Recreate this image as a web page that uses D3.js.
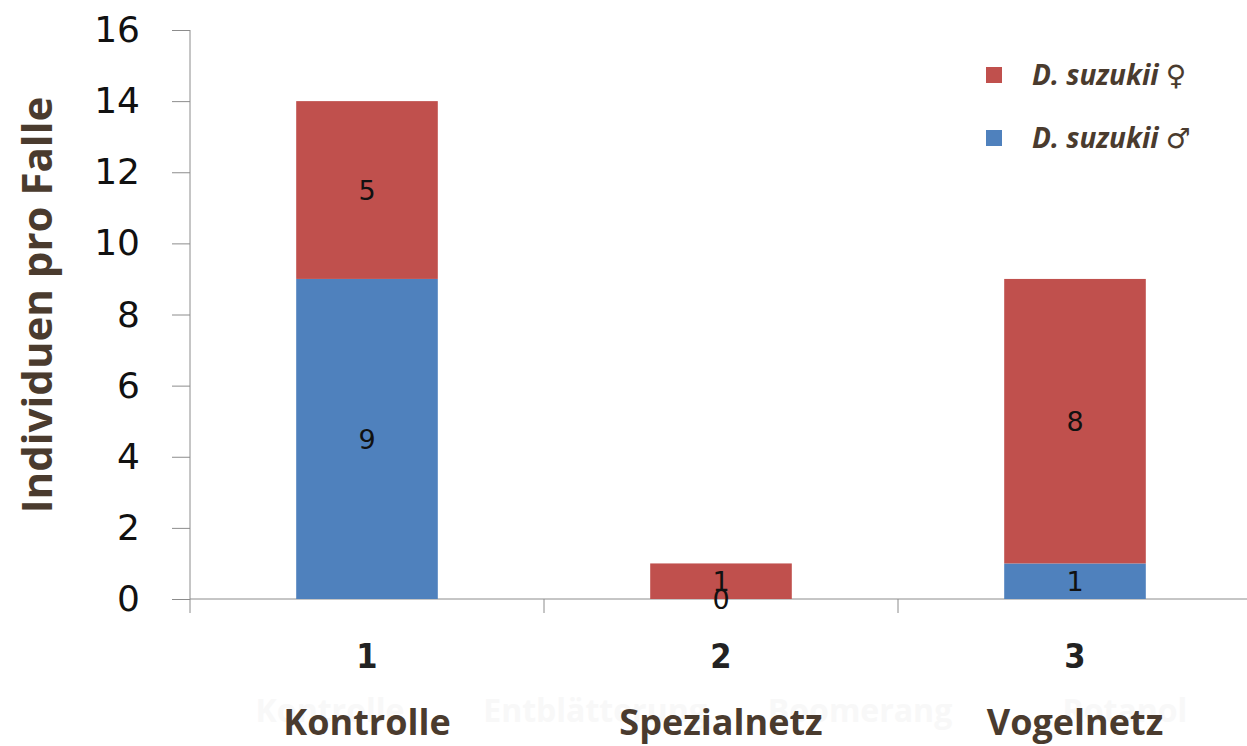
<!DOCTYPE html>
<html>
<head>
<meta charset="utf-8">
<script src="https://cdn.jsdelivr.net/npm/d3@7"></script>
<style>
  body { margin: 0; background: #fff; }
  svg { display: block; }
</style>
</head>
<body>
<svg width="1247" height="746"></svg>
<script>
var categories = ["1", "2", "3"];
var categoryNames = ["Kontrolle", "Spezialnetz", "Vogelnetz"];
var males = [9, 0, 1];
var females = [5, 1, 8];
var yTicks = [0, 2, 4, 6, 8, 10, 12, 14, 16];
var ghostNames = ["Kontrolle", "Entblätterung", "Boomerang", "Rotanol"];

var red = "#c0504d";
var blue = "#4f81bd";
var brown = "#4a3b2e";

var svg = d3.select("svg");

var x = d3.scaleBand()
    .domain(categories)
    .range([190, 1252])
    .padding(0);

var y = d3.scaleLinear()
    .domain([0, 16])
    .range([599, 30]);

var barW = x.bandwidth() * 0.4;

// y axis
var yAxis = svg.append("g")
    .attr("transform", "translate(190,0)")
    .call(d3.axisLeft(y).tickValues(yTicks).tickSize(18).tickPadding(32));
yAxis.selectAll("line, path").attr("stroke", "#8c8c8c");
yAxis.select(".domain").attr("d", "M0," + y(16) + "V" + y(0));
yAxis.selectAll("text")
    .attr("font-family", "DejaVu Sans")
    .attr("font-size", 36)
    .attr("fill", "#111");

// x axis
var xAxis = svg.append("g")
    .attr("transform", "translate(0,599)");
xAxis.append("line")
    .attr("x1", 190).attr("x2", 1247)
    .attr("stroke", "#8c8c8c");
xAxis.selectAll(".tk")
    .data(categories)
    .enter().append("line")
    .attr("class", "tk")
    .attr("x1", function(d) { return x(d); })
    .attr("x2", function(d) { return x(d); })
    .attr("y1", 0).attr("y2", 14)
    .attr("stroke", "#8c8c8c");

svg.selectAll(".num")
    .data(categories)
    .enter().append("text")
    .attr("x", function(d) { return x(d) + x.bandwidth() / 2; })
    .attr("y", 668)
    .attr("text-anchor", "middle")
    .attr("font-family", "DejaVu Sans Condensed, DejaVu Sans")
    .attr("font-weight", "bold")
    .attr("font-size", 34)
    .attr("fill", "#222")
    .text(function(d) { return d; });

// faint ghost labels
svg.selectAll(".ghost")
    .data(ghostNames)
    .enter().append("text")
    .attr("x", function(d, i) { return 330 + i * 265; })
    .attr("y", 722)
    .attr("text-anchor", "middle")
    .attr("font-family", "Open Sans")
    .attr("font-weight", "bold")
    .attr("font-size", 32)
    .attr("fill", "#f8f8f8")
    .text(function(d) { return d; });

svg.selectAll(".cat")
    .data(categoryNames)
    .enter().append("text")
    .attr("x", function(d, i) { return x(categories[i]) + x.bandwidth() / 2; })
    .attr("y", 735)
    .attr("text-anchor", "middle")
    .attr("font-family", "Open Sans")
    .attr("font-weight", "bold")
    .attr("font-size", 36)
    .attr("fill", brown)
    .text(function(d) { return d; });

// bars
var rows = categories.map(function(c, i) {
    return {cat: c, m: males[i], f: females[i]};
});

svg.selectAll(".mBar")
    .data(rows)
    .enter().append("rect")
    .attr("class", "mBar")
    .attr("x", function(d) { return x(d.cat) + (x.bandwidth() - barW) / 2; })
    .attr("width", barW)
    .attr("y", function(d) { return y(d.m); })
    .attr("height", function(d) { return y(0) - y(d.m); })
    .attr("fill", blue);

svg.selectAll(".fBar")
    .data(rows)
    .enter().append("rect")
    .attr("class", "fBar")
    .attr("x", function(d) { return x(d.cat) + (x.bandwidth() - barW) / 2; })
    .attr("width", barW)
    .attr("y", function(d) { return y(d.m + d.f); })
    .attr("height", function(d) { return y(d.m) - y(d.m + d.f); })
    .attr("fill", red);

// value labels
function addLabels(cls, getVal, getMid) {
    svg.selectAll("." + cls)
        .data(rows)
        .enter().append("text")
        .attr("class", cls)
        .attr("x", function(d) { return x(d.cat) + x.bandwidth() / 2; })
        .attr("y", function(d) { return y(getMid(d)); })
        .attr("dy", "0.36em")
        .attr("text-anchor", "middle")
        .attr("font-family", "DejaVu Sans")
        .attr("font-size", 27)
        .attr("fill", "#111")
        .text(getVal);
}
addLabels("mLab", function(d) { return d.m; }, function(d) { return d.m / 2; });
addLabels("fLab", function(d) { return d.f; }, function(d) { return d.m + d.f / 2; });

// y label
svg.append("text")
    .attr("transform", "translate(52,305) rotate(-90)")
    .attr("text-anchor", "middle")
    .attr("font-family", "Open Sans")
    .attr("font-weight", "bold")
    .attr("font-size", 42)
    .attr("fill", brown)
    .text("Individuen pro Falle");

// legend
var legend = [
    {label: "D. suzukii", sym: "♀", color: red, y: 75},
    {label: "D. suzukii", sym: "♂", color: blue, y: 138}
];
var lg = svg.selectAll(".lg")
    .data(legend)
    .enter().append("g")
    .attr("class", "lg")
    .attr("transform", function(d) { return "translate(0," + d.y + ")"; });
lg.append("rect")
    .attr("x", 986).attr("y", -8)
    .attr("width", 16).attr("height", 16)
    .attr("fill", function(d) { return d.color; });
var lt = lg.append("text")
    .attr("x", 1032)
    .attr("dy", "0.36em")
    .attr("font-family", "Open Sans")
    .attr("font-weight", "bold")
    .attr("font-size", 28)
    .attr("fill", brown);
lt.append("tspan")
    .attr("font-style", "italic")
    .text(function(d) { return d.label + " "; });
lt.append("tspan")
    .attr("font-family", "DejaVu Sans")
    .attr("font-size", 28)
    .text(function(d) { return d.sym; });
</script>
</body>
</html>
